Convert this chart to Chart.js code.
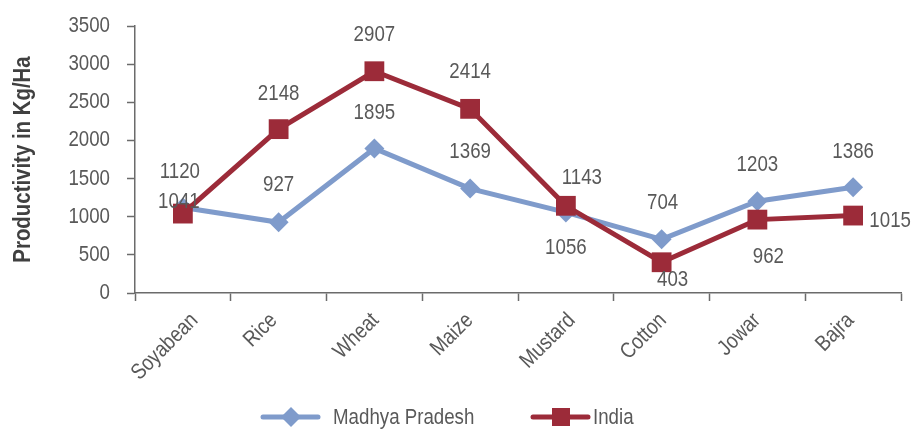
<!DOCTYPE html>
<html>
<head>
<meta charset="utf-8">
<script src="https://cdn.jsdelivr.net/npm/chart.js@4/dist/chart.umd.min.js"></script>
<style>
  html, body { margin: 0; padding: 0; background: #fff; }
  #wrap { width: 912px; height: 430px; position: relative; }
</style>
</head>
<body>
<div id="wrap"><canvas id="chart"></canvas></div>
<script>
const crops = ['Soyabean', 'Rice', 'Wheat', 'Maize', 'Mustard', 'Cotton', 'Jowar', 'Bajra'];
const mpValues = [1120, 927, 1895, 1369, 1056, 704, 1203, 1386];
const indiaValues = [1041, 2148, 2907, 2414, 1143, 403, 962, 1015];
const yTicks = [0, 500, 1000, 1500, 2000, 2500, 3000, 3500];

const FONT = "'Liberation Sans', Arial, sans-serif";
const NARROW = 0.85; // no narrow face installed, squeeze the regular one
const TEXT = '#595959';
const AXIS = '#6b6b6b';
const MP_COLOR = '#7f9bcb';
const INDIA_COLOR = '#9c2b39';

// label offsets (px) from each point, label centre
const mpLabelPos = [[-3, -36], [0, -37], [0, -36], [0, -37], [0, 35], [1, -36], [0, -36], [0, -35]];
const indiaLabelPos = [[-4, -12], [0, -35], [0, -36], [0, -37], [16, -28], [11, 18], [11, 37], [37, 5]];

function narrowText(ctx, text, x, y, align, angle, font, color) {
    ctx.save();
    ctx.font = font;
    ctx.fillStyle = color;
    ctx.textBaseline = 'middle';
    ctx.textAlign = align;
    ctx.translate(x, y);
    if (angle) ctx.rotate(angle);
    ctx.scale(NARROW, 1);
    ctx.fillText(text, 0, 0);
    ctx.restore();
}

const pointLabels = {
    id: 'pointLabels',
    afterDatasetsDraw(chart) {
        const ctx = chart.ctx;
        chart.data.datasets.forEach((ds, i) => {
            const meta = chart.getDatasetMeta(i);
            const offs = ds.labelPos;
            meta.data.forEach((pt, j) => {
                narrowText(ctx, String(ds.data[j]), pt.x + offs[j][0], pt.y + offs[j][1], 'center', 0, '22px ' + FONT, TEXT);
            });
        });
    }
};

const axisText = {
    id: 'axisText',
    afterDraw(chart) {
        const ctx = chart.ctx;
        const xs = chart.scales.x, ys = chart.scales.y;
        const font = '22px ' + FONT;
        // y tick labels
        yTicks.forEach(v => {
            narrowText(ctx, String(v), 110, ys.getPixelForValue(v), 'right', 0, font, TEXT);
        });
        // y title
        const area = chart.chartArea;
        narrowText(ctx, 'Productivity in Kg/Ha', 23, (area.top + area.bottom) / 2, 'center', -Math.PI / 2,
            'bold 24px ' + FONT, '#404040');
        // rotated category labels
        ctx.save();
        ctx.font = font;
        crops.forEach((c, i) => {
            const w = ctx.measureText(c).width * NARROW;
            const cx = xs.getPixelForValue(i);
            const ex = cx - 18 + w * Math.SQRT1_2 / 2;
            narrowText(ctx, c, ex, xs.top + 24, 'right', -Math.PI / 4, font, TEXT);
        });
        ctx.restore();
    }
};

const lineLegend = {
    id: 'lineLegend',
    afterDraw(chart) {
        const ctx = chart.ctx;
        const y = 417;
        const items = [
            { x: 263, gap: 70, ds: chart.data.datasets[0] },
            { x: 533, gap: 60, ds: chart.data.datasets[1] }
        ];
        items.forEach(it => {
            const c = it.ds.borderColor;
            ctx.save();
            ctx.strokeStyle = c;
            ctx.lineWidth = 5;
            ctx.lineCap = 'round';
            ctx.beginPath();
            ctx.moveTo(it.x, y);
            ctx.lineTo(it.x + 55, y);
            ctx.stroke();
            ctx.fillStyle = c;
            const cx = it.x + 28;
            if (it.ds.pointStyle === 'rectRot') {
                ctx.beginPath();
                ctx.moveTo(cx, y - 10);
                ctx.lineTo(cx + 10, y);
                ctx.lineTo(cx, y + 10);
                ctx.lineTo(cx - 10, y);
                ctx.closePath();
                ctx.fill();
            } else {
                ctx.fillRect(cx - 9, y - 9, 18, 18);
            }
            ctx.restore();
            narrowText(ctx, it.ds.label, it.x + it.gap, y + 1, 'left', 0, '22px ' + FONT, TEXT);
        });
    }
};

new Chart(document.getElementById('chart'), {
    type: 'line',
    data: {
        labels: crops,
        datasets: [
            {
                label: 'Madhya Pradesh',
                data: mpValues,
                borderColor: MP_COLOR,
                backgroundColor: MP_COLOR,
                borderWidth: 5,
                pointStyle: 'rectRot',
                pointRadius: 10,
                pointBorderWidth: 0,
                pointHoverRadius: 10,
                tension: 0,
                order: 2,
                labelPos: mpLabelPos
            },
            {
                label: 'India',
                data: indiaValues,
                borderColor: INDIA_COLOR,
                backgroundColor: INDIA_COLOR,
                borderWidth: 5,
                pointStyle: 'rect',
                pointRadius: 14,
                pointBorderWidth: 0,
                pointHoverRadius: 14,
                tension: 0,
                order: 1,
                labelPos: indiaLabelPos
            }
        ]
    },
    options: {
        responsive: true,
        maintainAspectRatio: false,
        animation: false,
        layout: { autoPadding: false, padding: { top: 26, right: 11, left: 0, bottom: 0 } },
        plugins: {
            legend: { display: false },
            tooltip: { enabled: false }
        },
        scales: {
            x: {
                offset: true,
                grid: { offset: true, drawOnChartArea: false, tickLength: 8, color: AXIS, tickWidth: 1.5 },
                border: { color: AXIS, width: 1.5 },
                ticks: { display: false, autoSkip: false },
                afterFit(scale) { scale.height = 137; }
            },
            y: {
                min: 0,
                max: 3500,
                afterBuildTicks(scale) { scale.ticks = yTicks.map(v => ({ value: v })); },
                grid: { drawOnChartArea: false, tickLength: 8, color: AXIS, tickWidth: 1.5 },
                border: { color: AXIS, width: 1.5 },
                ticks: { display: false },
                afterFit(scale) { scale.width = 135; }
            }
        }
    },
    plugins: [pointLabels, axisText, lineLegend]
});
</script>
</body>
</html>
